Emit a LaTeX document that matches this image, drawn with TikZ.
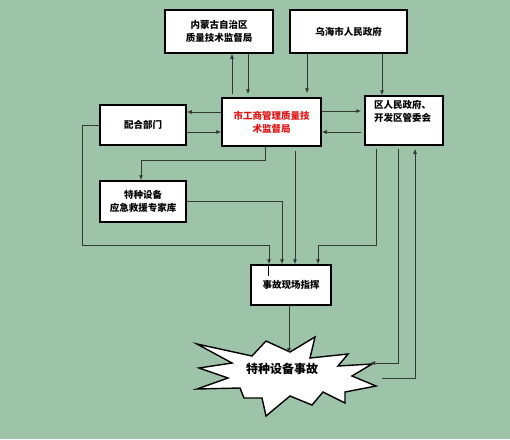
\documentclass[tikz,border=0pt]{standalone}
\usepackage{fontspec}
\setmainfont{Noto Sans CJK SC}
\usepackage{tikz}
\usetikzlibrary{arrows.meta,positioning,calc}
\usepackage{xcolor}
\definecolor{bgGreen}{RGB}{157,196,168}
\definecolor{lineGray}{RGB}{48,58,50}
\definecolor{titleRed}{RGB}{225,20,20}

\begin{document}
\begin{tikzpicture}[x=1pt,y=-1pt,>=Latex,
  box/.style={draw=black,line width=1.5pt,fill=white,align=center,inner sep=2pt,font=\bfseries\fontsize{9.5}{13}\selectfont},
  arr/.style={-{Latex[length=5pt,width=4pt]},line width=.8pt,draw=lineGray},
  burst/.style={draw=black,line width=1.4pt,fill=white,line join=miter}]
\fill[bgGreen] (0,0) rectangle (510,439);
\useasboundingbox (0,0) rectangle (510,439);
\node[box, minimum width=108pt, minimum height=43pt] (imqts) at (219,31.5) {内蒙古自治区\\质量技术监督局};
\node[box, minimum width=117pt, minimum height=43pt] (wuhai) at (348.5,31.5) {乌海市人民政府};
\node[box, minimum width=99pt, minimum height=48pt, text=titleRed] (city) at (271.5,122) {市工商管理质量技\\术监督局};
\node[box, minimum width=86pt, minimum height=40pt] (peihe) at (143,125) {配合部门};
\node[box, minimum width=78pt, minimum height=49pt, inner sep=0pt] (district) at (404,120.5) {\parbox[c][45pt][t]{60pt}{\raggedright\vspace{2pt}区人民政府、\\开发区管委会}};
\node[box, minimum width=86pt, minimum height=41pt] (expert) at (143,201.5) {特种设备\\应急救援专家库};
\node[box, minimum width=80pt, minimum height=40pt] (scene) at (291,285) {事故现场指挥};
% accident star
\draw[burst] (197,344) -- (252,356) -- (266,341) -- (290,352) -- (315,337) -- (310,358) -- (348,354)
  -- (338,366) -- (372,364) -- (352,376) -- (376,386) -- (345,392) -- (345,403) -- (323,392)
  -- (312,405) -- (290,396) -- (266,416) -- (262,398) -- (244,398) -- (240,388) -- (197,389)
  -- (228,378) -- (199,368) -- (232,363) -- cycle;
\node[font=\bfseries\fontsize{12}{14}\selectfont] (accident) at (282,369) {特种设备事故};
\coordinate (accTop) at (289,353);
\coordinate (accIn) at (370,363);
\coordinate (accOut) at (382,378);
% top level
\draw[arr, shorten <=3pt] (city.north -| 232,0) -- (imqts.south -| 232,0);
\draw[arr, shorten >=3pt] (imqts.south -| 248,0) -- (city.north -| 248,0);
\draw[arr, shorten >=4pt] (wuhai.south -| 307,0) -- (city.north -| 307,0);
\draw[arr] (wuhai.south -| 382,0) -- (district.north -| 382,0);
% middle row
\draw[arr] (city.west |- 0,112) -- (peihe.east |- 0,112);
\draw[arr] (peihe.east |- 0,132) -- (city.west |- 0,132);
\draw[arr, shorten >=3pt] (city.east |- 0,111) -- (district.west |- 0,111);
\draw[arr, shorten <=3pt] (district.west |- 0,132) -- (city.east |- 0,132);
% to the scene command
\draw[arr] (city.south -| 265,0) |- (141,160) -- (expert.north -| 141,0);
\draw[arr] (expert.east) -| (scene.north -| 282,0);
\draw[arr, shorten <=4pt] (city.south -| 295,0) -- (scene.north -| 295,0);
\draw[arr] (peihe.west) -- (82,125) |- (269,245) -- (scene.north -| 269,0);
\draw[line width=1pt] (scene.north -| 268,0) -- ++(0,12);
\draw[arr, shorten <=3pt] (district.south -| 376,0) |- (318,245) -- (scene.north -| 318,0);
% to and from the accident
\draw[arr] (scene.south -| 289,0) -- (accTop);
\draw[arr, shorten <=3pt] (district.south -| 398,0) |- (accIn);
\draw[arr, shorten >=3pt] (accOut) -| (district.south -| 415,0);
\end{tikzpicture}
\end{document}
